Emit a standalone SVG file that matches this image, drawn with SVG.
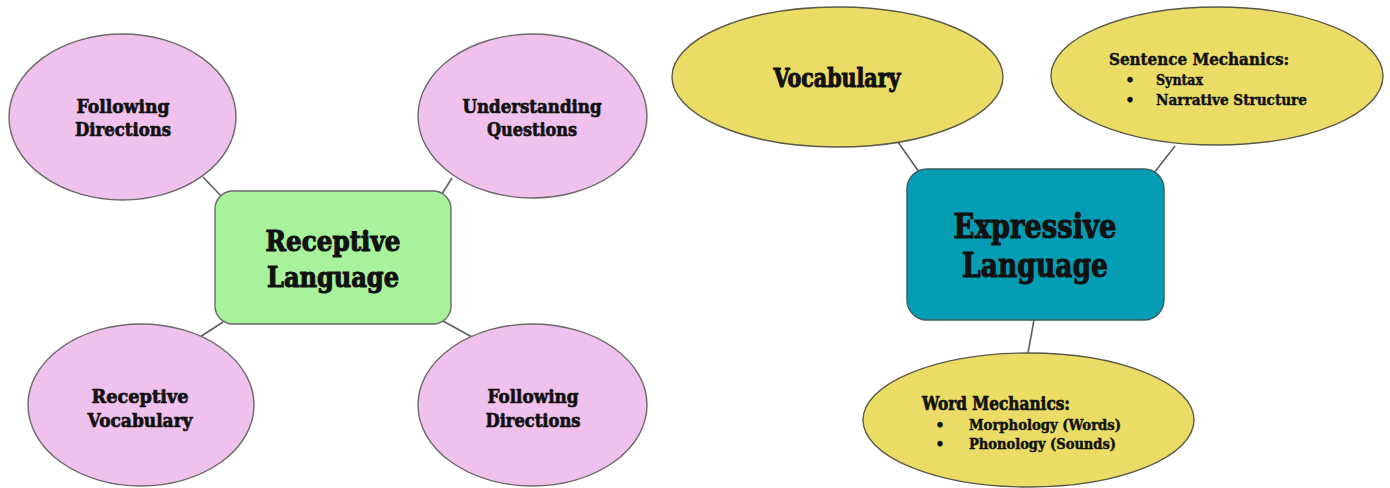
<svg xmlns="http://www.w3.org/2000/svg" width="1390" height="488" viewBox="0 0 1390 488">
  <style>
    .edge { stroke: #5f5f5f; stroke-width: 1.6; fill: none; }
    .pink { fill: #f0c1ec; stroke: #6a6a6a; stroke-width: 1.4; }
    .yellow { fill: #eadc64; stroke: #5a5a4a; stroke-width: 1.4; }
    .green { fill: #a9f29c; stroke: #6a6a6a; stroke-width: 1.4; }
    .teal { fill: #049db4; stroke: #3c5a60; stroke-width: 1.4; }
    text { font-family: "DejaVu Serif", "Liberation Serif", serif; font-weight: bold; fill: #111; stroke: #111; stroke-width: 0.7; }
    .big { stroke-width: 1.1; }
    .sm { stroke-width: 0.45; }
    .c { text-anchor: middle; }
  </style>
  <rect width="1390" height="488" fill="#ffffff"/>

  <g id="connectors">
    <line class="edge" x1="203" y1="177" x2="222" y2="197"/>
    <line class="edge" x1="452" y1="178" x2="440" y2="197"/>
    <line class="edge" x1="200" y1="337" x2="223" y2="322"/>
    <line class="edge" x1="443" y1="321" x2="472" y2="337"/>
    <line class="edge" x1="898" y1="142" x2="919" y2="172"/>
    <line class="edge" x1="1175" y1="146" x2="1154" y2="173"/>
    <line class="edge" x1="1034" y1="320" x2="1028" y2="353"/>
  </g>

  <!-- Receptive language cluster -->
  <g id="following-directions-top">
    <ellipse class="pink" cx="122.5" cy="117" rx="113.5" ry="83"/>
    <text class="c" x="123" y="113" font-size="19" textLength="93" lengthAdjust="spacingAndGlyphs">Following</text>
    <text class="c" x="123" y="136" font-size="19" textLength="96" lengthAdjust="spacingAndGlyphs">Directions</text>
  </g>
  <g id="understanding-questions">
    <ellipse class="pink" cx="532.5" cy="116" rx="114.5" ry="82"/>
    <text class="c" x="532" y="113" font-size="19" textLength="139" lengthAdjust="spacingAndGlyphs">Understanding</text>
    <text class="c" x="532" y="136" font-size="19" textLength="90" lengthAdjust="spacingAndGlyphs">Questions</text>
  </g>
  <g id="receptive-vocabulary">
    <ellipse class="pink" cx="141" cy="405" rx="113" ry="81"/>
    <text class="c" x="140" y="403" font-size="19" textLength="97" lengthAdjust="spacingAndGlyphs">Receptive</text>
    <text class="c" x="140" y="427" font-size="19" textLength="105" lengthAdjust="spacingAndGlyphs">Vocabulary</text>
  </g>
  <g id="following-directions-bottom">
    <ellipse class="pink" cx="532.5" cy="405" rx="114.5" ry="81"/>
    <text class="c" x="533" y="403" font-size="19" textLength="91" lengthAdjust="spacingAndGlyphs">Following</text>
    <text class="c" x="533" y="427" font-size="19" textLength="95" lengthAdjust="spacingAndGlyphs">Directions</text>
  </g>
  <g id="receptive-language">
    <rect class="green" x="215" y="191" width="236" height="133" rx="18"/>
    <text class="c big" x="333" y="251" font-size="28" textLength="135" lengthAdjust="spacingAndGlyphs">Receptive</text>
    <text class="c big" x="333" y="287" font-size="28" textLength="132" lengthAdjust="spacingAndGlyphs">Language</text>
  </g>

  <!-- Expressive language cluster -->
  <g id="vocabulary">
    <ellipse class="yellow" cx="837.5" cy="77" rx="165.5" ry="70"/>
    <text class="c big" x="837" y="87" font-size="26" textLength="127" lengthAdjust="spacingAndGlyphs">Vocabulary</text>
  </g>
  <g id="sentence-mechanics">
    <ellipse class="yellow" cx="1217" cy="76" rx="166" ry="69"/>
    <text class="sm" x="1109" y="65" font-size="16" textLength="180" lengthAdjust="spacingAndGlyphs">Sentence Mechanics:</text>
    <text class="c sm" x="1130" y="85" font-size="14">•</text>
    <text class="sm" x="1156" y="85" font-size="15" textLength="47" lengthAdjust="spacingAndGlyphs">Syntax</text>
    <text class="c sm" x="1130" y="105" font-size="14">•</text>
    <text class="sm" x="1156" y="105" font-size="15" textLength="151" lengthAdjust="spacingAndGlyphs">Narrative Structure</text>
  </g>
  <g id="expressive-language">
    <rect class="teal" x="907" y="169" width="257" height="151" rx="20"/>
    <text class="c big" x="1035" y="238" font-size="33" textLength="163" lengthAdjust="spacingAndGlyphs">Expressive</text>
    <text class="c big" x="1035" y="277" font-size="33" textLength="146" lengthAdjust="spacingAndGlyphs">Language</text>
  </g>
  <g id="word-mechanics">
    <ellipse class="yellow" cx="1028.5" cy="420" rx="165.5" ry="67"/>
    <text x="922" y="410" font-size="18" textLength="148" lengthAdjust="spacingAndGlyphs">Word Mechanics:</text>
    <text class="c sm" x="940" y="430" font-size="14">•</text>
    <text class="sm" x="969" y="430" font-size="14" textLength="152" lengthAdjust="spacingAndGlyphs">Morphology (Words)</text>
    <text class="c sm" x="940" y="449" font-size="14">•</text>
    <text class="sm" x="969" y="449" font-size="14" textLength="147" lengthAdjust="spacingAndGlyphs">Phonology (Sounds)</text>
  </g>
</svg>
